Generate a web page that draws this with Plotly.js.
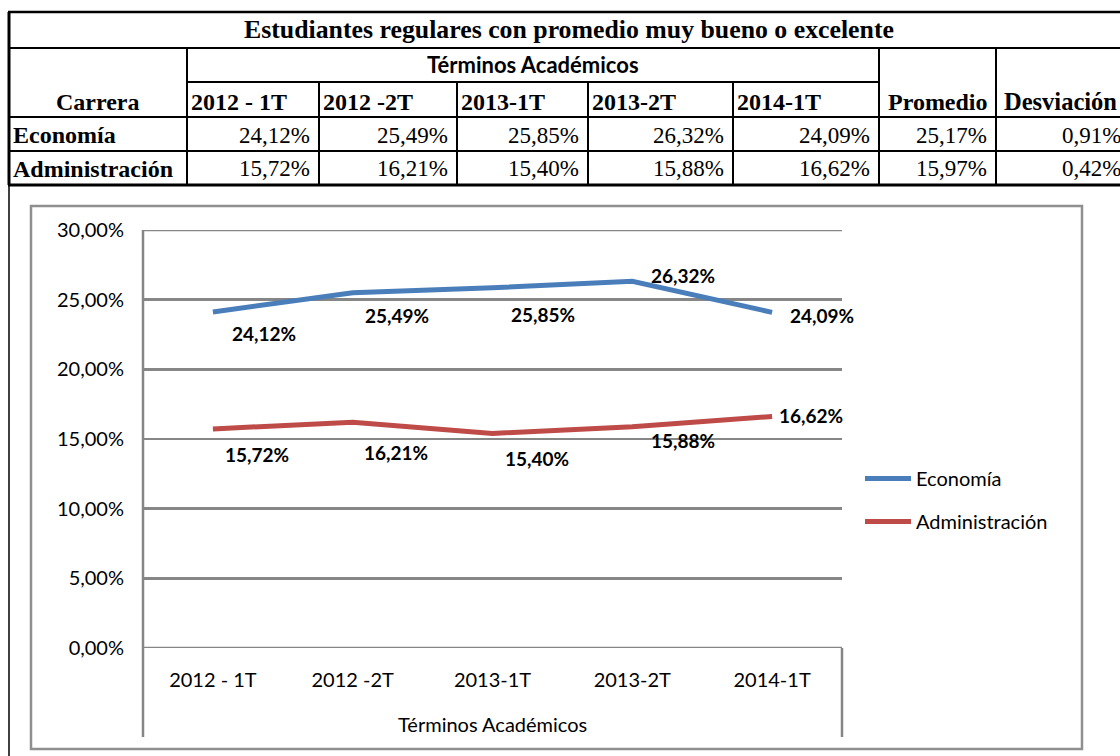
<!DOCTYPE html>
<html><head><meta charset="utf-8">
<script src="https://cdn.plot.ly/plotly-3.0.1.min.js"></script>
<style>html,body{margin:0;padding:0;background:#fff}#chart{width:1120px;height:756px}</style>
</head><body><div id="chart"></div>
<script>
// ---- data ----
const tableTitle = "Estudiantes regulares con promedio muy bueno o excelente";
const groupHeader = "Términos Académicos";
const carreraHeader = "Carrera";
const promedioHeader = "Promedio";
const desviacionHeader = "Desviación";
const terms = ["2012 - 1T", "2012 -2T", "2013-1T", "2013-2T", "2014-1T"];
const carreras = ["Economía", "Administración"];
const economia = [24.12, 25.49, 25.85, 26.32, 24.09];
const administracion = [15.72, 16.21, 15.40, 15.88, 16.62];
const promedio = [25.17, 15.97];
const desviacion = [0.91, 0.42];
const yTicks = [0, 5, 10, 15, 20, 25, 30];
const xAxisTitle = "Términos Académicos";

// ---- layout helpers ----
const W = 1120, H = 756;
const px = v => v / W;
const py = v => 1 - v / H;
const fmt = v => v.toFixed(2).replace('.', ',') + '%';

const SERIF = "Liberation Serif, Times New Roman, serif";
const SANS = "Lato, Calibri, sans-serif";

// table geometry (pixels)
const colX = [9, 187, 319, 457, 588, 733, 879, 996, 1135];
const rowY = [12, 48, 82, 117, 151, 185];

const shapes = [];
function hline(y, x0, x1, w, c) {
  shapes.push({type: 'line', xref: 'paper', yref: 'paper', x0: px(x0), x1: px(x1), y0: py(y), y1: py(y),
    line: {color: c || '#000', width: w}});
}
function vline(x, y0, y1, w, c) {
  shapes.push({type: 'line', xref: 'paper', yref: 'paper', x0: px(x), x1: px(x), y0: py(y0), y1: py(y1),
    line: {color: c || '#000', width: w}});
}
// table grid
hline(rowY[0], 8, W, 2.5);
hline(rowY[1], 8, W, 2);
hline(rowY[2], colX[1], colX[6], 2);
hline(rowY[3], 8, W, 2);
hline(rowY[4], 8, W, 2);
hline(rowY[5], 8, W, 3);
vline(colX[0], rowY[0], rowY[5], 3);
vline(colX[0], rowY[5], H, 1.5);
vline(colX[1], rowY[1], rowY[5], 2);
for (let i = 2; i <= 5; i++) vline(colX[i], rowY[2], rowY[5], 2);
vline(colX[6], rowY[1], rowY[5], 2);
vline(colX[7], rowY[1], rowY[5], 2);

// chart frame
const GRID = '#868686';
shapes.push({type: 'rect', xref: 'paper', yref: 'paper', x0: px(31), x1: px(1082), y0: py(206), y1: py(749),
  line: {color: '#8f8f8f', width: 2.5}, fillcolor: 'rgba(0,0,0,0)'});
const plotL = 143, plotR = 842, plotT = 230, plotB = 648, axisBottom = 737;
vline(plotL, plotT, axisBottom, 2.5, GRID);
vline(plotR, plotB, axisBottom, 2.5, GRID);
// gridlines at the ends of the value range (Plotly skips those)
[yTicks[0], yTicks[yTicks.length - 1]].forEach(v => shapes.push({type: 'line', xref: 'paper', yref: 'y', layer: 'below',
  x0: px(plotL), x1: px(plotR), y0: v, y1: v, line: {color: GRID, width: 2.5}}));

// annotations
const annotations = [];
function txt(text, x, y, opts) {
  annotations.push(Object.assign({text: text, x: px(x), y: py(y), xref: 'paper', yref: 'paper', showarrow: false,
    xanchor: 'center', yanchor: 'middle'}, opts));
}
const bSerif = s => ({family: SERIF, size: s, color: '#000', weight: 'bold'});
const rSerif = s => ({family: SERIF, size: s, color: '#000'});

txt(tableTitle, 569, 30, {font: bSerif(25.8)});
txt(groupHeader, (colX[1] + colX[6]) / 2, 65, {font: {family: SANS, size: 22, color: '#000', weight: 'bold'}});
txt(carreraHeader, (colX[0] + colX[1]) / 2, 102, {font: bSerif(24)});
terms.forEach((t, i) => txt(t, colX[i + 1] + 2, 102, {xanchor: 'left', font: bSerif(24)}));
txt(promedioHeader, (colX[6] + colX[7]) / 2, 102, {font: bSerif(24)});
txt(desviacionHeader, colX[7] + 6, 102, {xanchor: 'left', font: bSerif(24.5)});

const rowsVals = [economia, administracion];
const rowCenters = [135, 169];
carreras.forEach((c, r) => {
  txt(c, colX[0] + 2, rowCenters[r], {xanchor: 'left', font: bSerif(24)});
  rowsVals[r].forEach((v, i) => txt(fmt(v), colX[i + 2] - 7, rowCenters[r], {xanchor: 'right', font: rSerif(23)}));
  txt(fmt(promedio[r]), colX[7] - 7, rowCenters[r], {xanchor: 'right', font: rSerif(23)});
  txt(fmt(desviacion[r]), 1123, rowCenters[r], {xanchor: 'right', font: rSerif(23)});
});

// axis title
txt(xAxisTitle, 492, 724, {font: {family: SANS, size: 20, color: '#000'}});

// data labels (pixel offsets from each point)
const ecoShift = [[51, -22], [44, -23], [50, -27], [51, 6], [50, -3]];
const admShift = [[44, -26], [43, -30], [44, -25], [51, -14], [39, 1]];
function labels(vals, shifts) {
  vals.forEach((v, i) => annotations.push({x: terms[i], y: v, xref: 'x', yref: 'y', text: fmt(v), showarrow: false,
    xshift: shifts[i][0], yshift: shifts[i][1], font: {family: SANS, size: 19, color: '#000', weight: 'bold'}}));
}
labels(economia, ecoShift);
labels(administracion, admShift);

const traces = [
  {x: terms, y: economia, name: 'Economía', type: 'scatter', mode: 'lines', legendgroup: 'a',
   line: {color: '#4a7ebb', width: 5}, hoverinfo: 'skip'},
  {x: terms, y: administracion, name: 'Administración', type: 'scatter', mode: 'lines', legendgroup: 'b',
   line: {color: '#be4b48', width: 5}, hoverinfo: 'skip'}
];

const layout = {
  width: W, height: H, margin: {l: 0, r: 0, t: 0, b: 0},
  paper_bgcolor: '#fff', plot_bgcolor: 'rgba(0,0,0,0)',
  xaxis: {type: 'category', domain: [px(plotL), px(plotR)], range: [-0.5, 4.5], showgrid: false, showline: false,
    zeroline: false, ticks: '', ticklabelstandoff: 18, tickfont: {family: SANS, size: 20, color: '#000'},
    fixedrange: true},
  yaxis: {domain: [py(plotB), py(plotT)], range: [0, 30], tickvals: yTicks, ticktext: yTicks.map(fmt),
    showgrid: true, gridcolor: GRID, gridwidth: 2.5, zeroline: false, showline: false, ticks: '',
    ticklabelstandoff: 18, tickfont: {family: SANS, size: 20, color: '#000'}, fixedrange: true},
  showlegend: true,
  legend: {x: px(860), y: py(459), xanchor: 'left', yanchor: 'top', font: {family: SANS, size: 20, color: '#000'},
    tracegroupgap: 14, itemwidth: 46, bgcolor: 'rgba(0,0,0,0)', traceorder: 'grouped'},
  shapes: shapes,
  annotations: annotations
};

Plotly.newPlot('chart', traces, layout, {staticPlot: true, displayModeBar: false});
</script></body></html>
